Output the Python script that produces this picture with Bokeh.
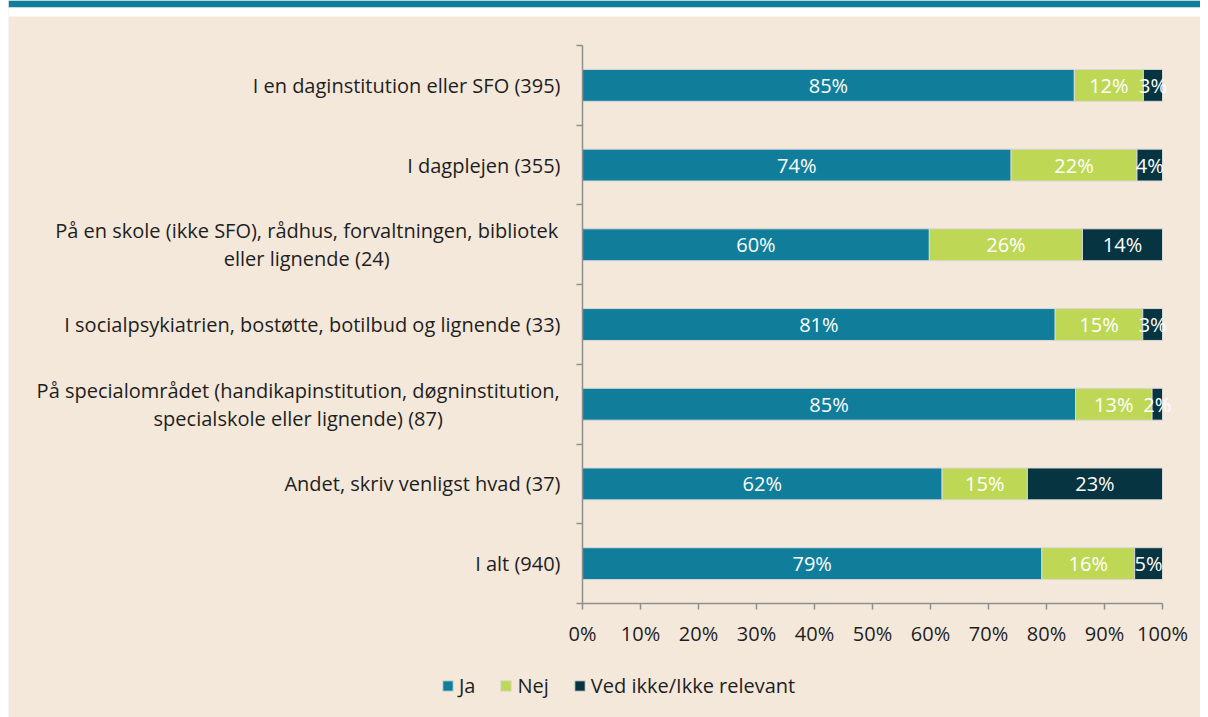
from bokeh.plotting import figure
from bokeh.models import (ColumnDataSource, Range1d, FixedTicker, Label, Legend, LegendItem,
                          Spacer, BoxAnnotation)
from bokeh.layouts import row
from bokeh.embed import file_html
from bokeh.resources import INLINE
from bokeh.core.properties import value

categories = [
    "I en daginstitution eller SFO (395)",
    "I dagplejen (355)",
    "På en skole (ikke SFO), rådhus, forvaltningen, bibliotek\neller lignende (24)",
    "I socialpsykiatrien, bostøtte, botilbud og lignende (33)",
    "På specialområdet (handikapinstitution, døgninstitution,\nspecialskole eller lignende) (87)",
    "Andet, skriv venligst hvad (37)",
    "I alt (940)",
]
series = ["Ja", "Nej", "Ved ikke/Ikke relevant"]
ja = [84.8, 73.9, 59.8, 81.5, 85.0, 62.0, 79.2]
nej = [11.9, 21.7, 26.4, 15.1, 13.2, 14.7, 16.0]
ved = [3.3, 4.4, 13.8, 3.4, 1.8, 23.3, 4.8]
ja_labels = ["85%", "74%", "60%", "81%", "85%", "62%", "79%"]
nej_labels = ["12%", "22%", "26%", "15%", "13%", "15%", "16%"]
ved_labels = ["3%", "4%", "14%", "3%", "2%", "23%", "5%"]
x_ticks = [0, 10, 20, 30, 40, 50, 60, 70, 80, 90, 100]
x_tick_labels = ["0%", "10%", "20%", "30%", "40%", "50%", "60%", "70%", "80%", "90%", "100%"]

FONT = "Open Sans"
FS = "20px"
FS_CAT = "20px"
BEIGE = "#F4E8DB"
TEAL = "#107E9B"
LIME = "#BED856"
DARK = "#063441"
AXC = "#8E8E8E"
TXT = "#1E1E1E"

# pixel layout of the figure (frame fills the whole figure)
W, H = 1192, 717
X0, X100 = 574, 1154          # pixel columns of 0% and 100%
YT, YB = 45, 603              # pixel rows of the top and bottom of the category axis
n = len(categories)
ppx = (X100 - X0) / 100.0
ppy = (YB - YT) / n
x_start, x_end = -X0 / ppx, 100 + (W - X100) / ppx
y_start, y_end = -(H - YB) / ppy, n + YT / ppy

ypos = [n - i - 0.5 for i in range(n)]
src = ColumnDataSource(dict(y=ypos, Ja=ja, Nej=nej, Ved=ved))

p = figure(width=W, height=H, x_range=Range1d(x_start, x_end), y_range=Range1d(y_start, y_end),
           output_backend="svg", toolbar_location=None, min_border=0)
p.background_fill_color = BEIGE
p.border_fill_color = BEIGE
p.outline_line_color = None
p.grid.visible = False

# top band: teal strip and white gap
p.add_layout(BoxAnnotation(bottom=y_end - 7 / ppy, fill_color=TEAL, fill_alpha=1, line_color=None))
p.add_layout(BoxAnnotation(bottom=y_end - 16 / ppy, top=y_end - 7 / ppy, fill_color="white",
                           fill_alpha=1, line_color=None))

rs = p.hbar_stack(["Ja", "Nej", "Ved"], y="y", height=0.4, color=[TEAL, LIME, DARK],
                  line_color="#D8D8D8", line_width=1, source=src)

# segment labels
lx, ly, lt = [], [], []
for vals, labs, base in [(ja, ja_labels, [0] * n),
                         (nej, nej_labels, ja),
                         (ved, ved_labels, [a + b for a, b in zip(ja, nej)])]:
    for i in range(n):
        lx.append(base[i] + vals[i] / 2)
        ly.append(ypos[i])
        lt.append(labs[i])
lsrc = ColumnDataSource(dict(x=lx, y=ly, t=lt))
p.text(x="x", y="y", text="t", source=lsrc, text_align="center",
       text_baseline="middle", text_color="white",
       text_font=value(FONT), text_font_size=FS)

# category labels
centers = {2: -275.8, 4: -284.3}
for i, cat in enumerate(categories):
    if "\n" in cat:
        lab = Label(x=0, y=ypos[i], x_offset=centers[i], text=cat,
                    text_align="center", text_baseline="middle", text_line_height=1.03,
                    text_font=FONT, text_font_size=FS_CAT, text_color=TXT)
    else:
        lab = Label(x=0, y=ypos[i], x_offset=-22, text=cat,
                    text_align="right", text_baseline="middle",
                    text_font=FONT, text_font_size=FS_CAT, text_color=TXT)
    p.add_layout(lab)

# axes
xa = p.xaxis[0]
xa.fixed_location = 0
xa.bounds = (0, 100)
xa.ticker = FixedTicker(ticks=x_ticks)
xa.major_label_overrides = {t: l for t, l in zip(x_ticks, x_tick_labels)}
xa.major_label_standoff = 10
xa.major_label_text_font_size = FS

ya = p.yaxis[0]
ya.fixed_location = 0
ya.bounds = (0, n)
ya.ticker = FixedTicker(ticks=list(range(n + 1)))
ya.major_label_overrides = {t: "" for t in range(n + 1)}

for ax in (xa, ya):
    ax.axis_line_color = AXC
    ax.axis_line_width = 1.5
    ax.major_tick_line_color = AXC
    ax.major_tick_line_width = 1.5
    ax.major_tick_in = 0
    ax.major_tick_out = 6
    ax.minor_tick_line_color = None
    ax.major_label_text_font = FONT
    ax.major_label_text_color = TXT

legend = Legend(items=[LegendItem(label=s, renderers=[r]) for s, r in zip(series, rs)],
                orientation="horizontal", location=(433, 18))
legend.background_fill_alpha = 0
legend.border_line_color = None
legend.padding = 0
legend.margin = 0
legend.spacing = 24
legend.glyph_width = 13
legend.glyph_height = 13
legend.label_standoff = 5
legend.label_width = 0
legend.label_text_font = FONT
legend.label_text_font_size = FS_CAT
legend.label_text_color = TXT
p.add_layout(legend)

layout = row(Spacer(width=8, height=H), p)

open("out.html", "w").write(file_html(layout, INLINE))
